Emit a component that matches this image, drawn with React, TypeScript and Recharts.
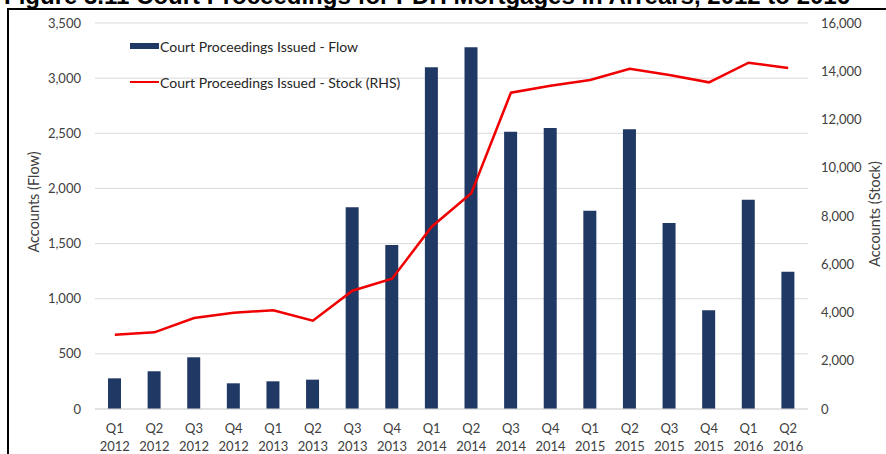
import React from 'react';
import { ComposedChart, Bar, Line, XAxis, YAxis, CartesianGrid, Legend } from 'recharts';

const quarters = [
  'Q1 2012', 'Q2 2012', 'Q3 2012', 'Q4 2012',
  'Q1 2013', 'Q2 2013', 'Q3 2013', 'Q4 2013',
  'Q1 2014', 'Q2 2014', 'Q3 2014', 'Q4 2014',
  'Q1 2015', 'Q2 2015', 'Q3 2015', 'Q4 2015',
  'Q1 2016', 'Q2 2016',
];

// court proceedings issued in the quarter (left axis)
const flow = [278, 342, 469, 233, 251, 266, 1829, 1487, 3098, 3279, 2514, 2548, 1798, 2536, 1686, 895, 1898, 1245];

// outstanding stock of proceedings (right axis)
const stock = [3080, 3178, 3772, 3992, 4090, 3661, 4904, 5401, 7557, 8940, 13111, 13402, 13637, 14106, 13845, 13541, 14355, 14135];

const flowTicks = [0, 500, 1000, 1500, 2000, 2500, 3000, 3500];
const stockTicks = [0, 2000, 4000, 6000, 8000, 10000, 12000, 14000, 16000];

const NAVY = '#203864';
const RED = '#f00000';
const FONT = 'Lato, "Liberation Sans", sans-serif';
const TEXT = '#404040';

const data = quarters.map((q, i) => ({ quarter: q, flow: flow[i], stock: stock[i] }));

const fmt = (v: number) => v.toLocaleString('en-US');

const QuarterTick = (props: any) => {
  const { x, y, payload } = props;
  const [q, yr] = String(payload.value).split(' ');
  return (
    <text x={x} y={y} textAnchor="middle" fill={TEXT} fontSize={13} fontFamily={FONT}>
      <tspan x={x} dy={16}>{q}</tspan>
      <tspan x={x} dy={18}>{yr}</tspan>
    </text>
  );
};

const axisTitle = (text: string, dx: number, dy: number) => (props: any) => {
  const vb = props.viewBox;
  const cx = vb.x + dx;
  const cy = vb.y + vb.height / 2 + dy;
  return (
    <text
      transform={`translate(${cx}, ${cy}) rotate(-90)`}
      textAnchor="middle"
      dominantBaseline="middle"
      fill={TEXT}
      fontSize={14.5}
      fontFamily={FONT}
    >
      {text}
    </text>
  );
};

const LegendBox = () => (
  <div style={{ fontFamily: FONT, fontSize: 14, color: '#262626' }}>
    <div style={{ display: 'flex', alignItems: 'center', height: 20 }}>
      <span style={{ width: 29, height: 6, background: NAVY, display: 'inline-block', marginRight: 1 }} />
      Court Proceedings Issued - Flow
    </div>
    <div style={{ display: 'flex', alignItems: 'center', height: 20, marginTop: 16 }}>
      <span style={{ width: 29, height: 2.5, background: RED, display: 'inline-block', marginRight: 1 }} />
      Court Proceedings Issued - Stock (RHS)
    </div>
  </div>
);

export default function App() {
  return (
    <div style={{ position: 'absolute', left: 0, top: 0, width: 886, height: 454, overflow: 'hidden', background: '#fff' }}>
      <div
        style={{
          position: 'absolute', left: 4, top: -18, whiteSpace: 'nowrap', lineHeight: '28px',
          fontFamily: '"Liberation Sans", sans-serif', fontWeight: 'bold', fontSize: 24, color: '#000',
        }}
      >
        Figure 3.11 Court Proceedings for PDH Mortgages in Arrears, 2012 to 2016
      </div>
      <div
        style={{
          position: 'absolute', left: 7, top: 8, width: 900, height: 500,
          border: '2.5px solid #000', boxSizing: 'border-box', pointerEvents: 'none',
        }}
      />
      <ComposedChart
        width={886}
        height={454}
        data={data}
        margin={{ top: 23, right: 0, bottom: 0, left: 0 }}
        barCategoryGap={0}
      >
        <CartesianGrid yAxisId="left" vertical={false} stroke="#d9d9d9" strokeWidth={1} />
        <XAxis
          dataKey="quarter"
          height={45}
          interval={0}
          tickLine={false}
          axisLine={{ stroke: '#d9d9d9' }}
          tick={<QuarterTick />}
        />
        <YAxis
          yAxisId="left"
          width={95}
          domain={[0, 3500]}
          ticks={flowTicks}
          tickFormatter={fmt}
          tickLine={false}
          axisLine={false}
          tickMargin={8}
          tick={{ fill: TEXT, fontSize: 13, fontFamily: FONT }}
          label={axisTitle('Accounts (Flow)', 35, -14)}
        />
        <YAxis
          yAxisId="right"
          orientation="right"
          width={78}
          domain={[0, 16000]}
          ticks={stockTicks}
          tickFormatter={fmt}
          tickLine={false}
          axisLine={false}
          tickMargin={7}
          tick={{ fill: TEXT, fontSize: 13, fontFamily: FONT, textAnchor: 'start' }}
          label={axisTitle('Accounts (Stock)', 68, -2)}
        />
        <Legend
          layout="horizontal"
          verticalAlign="middle"
          align="center"
          content={<LegendBox />}
          wrapperStyle={{ position: 'absolute', left: 130, top: 36, width: 340 }}
        />
        <Bar yAxisId="left" dataKey="flow" fill={NAVY} barSize={13} isAnimationActive={false} />
        <Line
          yAxisId="right"
          dataKey="stock"
          type="linear"
          stroke={RED}
          strokeWidth={2.5}
          dot={false}
          activeDot={false}
          isAnimationActive={false}
        />
      </ComposedChart>
    </div>
  );
}
